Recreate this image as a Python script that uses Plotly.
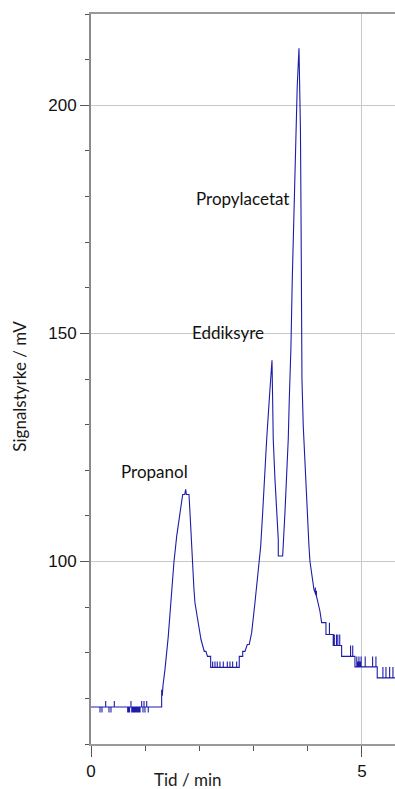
import plotly.graph_objects as go

# Chromatogram: retention time (min) and detector signal (mV).
# Repeated time values form the single-sample noise spikes of the recorder.
tid_min = [
    0.000,
    0.166, 0.166, 0.166,
    0.203, 0.203, 0.203,
    0.271, 0.271, 0.271,
    0.332, 0.332, 0.332,
    0.369, 0.369, 0.369,
    0.430, 0.430, 0.430,
    0.677, 0.677, 0.677,
    0.695, 0.695, 0.695,
    0.712, 0.712, 0.712,
    0.738, 0.738, 0.738,
    0.752, 0.752, 0.752,
    0.770, 0.770, 0.770,
    0.790, 0.790, 0.790,
    0.808, 0.808, 0.808,
    0.826, 0.826, 0.826,
    0.845, 0.845, 0.845,
    0.866, 0.866, 0.866,
    0.886, 0.886, 0.886,
    0.905, 0.905, 0.905,
    0.935, 0.935, 0.935,
    0.959, 0.959, 0.959,
    0.978, 0.978, 0.978,
    0.996, 0.996, 0.996,
    1.028, 1.028, 1.028,
    1.057, 1.057, 1.057,
    1.304, 1.304, 1.315, 1.330,
    1.365, 1.426, 1.489, 1.531, 1.581, 1.642, 1.692,
    1.730, 1.747, 1.760, 1.808,
    1.827, 1.869, 1.900, 1.919, 1.980, 2.030, 2.090, 2.120, 2.150, 2.208, 2.208,
    2.245, 2.245, 2.245,
    2.288, 2.288, 2.288,
    2.330, 2.330, 2.330,
    2.380, 2.380, 2.380,
    2.441, 2.441, 2.441,
    2.515, 2.515, 2.515,
    2.565, 2.565, 2.565,
    2.614, 2.614, 2.614,
    2.688, 2.688, 2.688,
    2.736, 2.736, 2.800, 2.800, 2.841, 2.884, 2.920,
    2.965, 3.026, 3.087, 3.131, 3.168, 3.197, 3.242, 3.290, 3.321, 3.334, 3.340,
    3.352, 3.363, 3.395, 3.426, 3.456, 3.456, 3.537,
    3.579, 3.611, 3.640, 3.659, 3.690, 3.714, 3.733, 3.751, 3.777, 3.795, 3.806, 3.838,
    3.856, 3.865, 3.875, 3.880, 3.893, 3.917, 3.948, 3.980, 4.022, 4.041,
    4.090, 4.114, 4.140, 4.140, 4.140, 4.160, 4.160, 4.160, 4.175, 4.225, 4.256,
    4.336, 4.336,
    4.400, 4.400, 4.400,
    4.470, 4.470,
    4.490, 4.490, 4.490,
    4.530, 4.530, 4.530,
    4.555, 4.555, 4.555,
    4.590, 4.590, 4.590,
    4.625, 4.625,
    4.790, 4.790, 4.790,
    4.830, 4.830, 4.830,
    4.871, 4.871,
    4.905, 4.905, 4.905,
    4.925, 4.925, 4.925,
    4.945, 4.945, 4.945,
    4.965, 4.965, 4.965,
    4.985, 4.985, 4.985,
    5.060, 5.060, 5.060,
    5.197, 5.197, 5.197,
    5.258, 5.258, 5.258,
    5.282, 5.282,
    5.387, 5.387, 5.387,
    5.443, 5.443, 5.443,
    5.511, 5.511, 5.511,
    5.572, 5.572, 5.572,
    5.650,
]

signal_mv = [
    68.1,
    68.1, 66.9, 68.1,
    68.1, 66.9, 68.1,
    68.1, 69.4, 68.1,
    68.1, 66.9, 68.1,
    68.1, 66.9, 68.1,
    68.1, 69.4, 68.1,
    68.1, 66.9, 68.1,
    68.1, 66.9, 68.1,
    68.1, 66.9, 68.1,
    68.1, 69.4, 68.1,
    68.1, 66.9, 68.1,
    68.1, 66.9, 68.1,
    68.1, 66.9, 68.1,
    68.1, 66.9, 68.1,
    68.1, 66.9, 68.1,
    68.1, 66.9, 68.1,
    68.1, 66.9, 68.1,
    68.1, 66.9, 68.1,
    68.1, 66.9, 68.1,
    68.1, 69.4, 68.1,
    68.1, 66.9, 68.1,
    68.1, 69.4, 68.1,
    68.1, 66.9, 68.1,
    68.1, 69.4, 68.1,
    68.1, 66.9, 68.1,
    68.1, 71.9, 70.6, 73.0,
    76.3, 83.6, 94.6, 99.9, 105.5, 110.7, 114.7,
    114.7, 115.8, 114.7, 114.7,
    110.7, 99.9, 93.9, 90.9, 86.6, 82.9, 80.3, 80.3, 79.2, 79.2, 76.8,
    76.8, 78.1, 76.8,
    76.8, 78.1, 76.8,
    76.8, 78.1, 76.8,
    76.8, 78.1, 76.8,
    76.8, 78.1, 76.8,
    76.8, 78.1, 76.8,
    76.8, 78.1, 76.8,
    76.8, 78.1, 76.8,
    76.8, 78.1, 76.8,
    76.8, 79.2, 79.2, 80.3, 80.3, 81.8, 81.8,
    84.4, 91.0, 98.2, 103.3, 110.7, 118.0, 126.8, 135.5, 142.1, 144.1, 144.1,
    135.5, 126.8, 118.0, 110.7, 104.8, 101.2, 101.2,
    110.7, 118.0, 126.8, 135.5, 147.2, 161.8, 171.1, 177.9, 187.5, 194.7, 204.2, 212.5,
    204.2, 194.7, 177.9, 161.8, 139.9, 129.7, 120.9, 112.1, 103.4, 100.0,
    96.1, 93.9, 93.0, 94.3, 93.0, 92.4, 93.6, 92.4, 91.7, 89.1, 86.6,
    86.6, 84.0,
    84.0, 86.6, 84.0,
    84.0, 81.6,
    81.6, 84.0, 81.6,
    81.6, 84.0, 81.6,
    81.6, 84.0, 81.6,
    81.6, 84.0, 81.6,
    81.6, 79.2,
    79.2, 81.6, 79.2,
    79.2, 81.6, 79.2,
    79.2, 76.9,
    76.9, 79.2, 76.9,
    76.9, 78.1, 76.9,
    76.9, 79.2, 76.9,
    76.9, 78.1, 76.9,
    76.9, 79.2, 76.9,
    76.9, 79.2, 76.9,
    76.9, 79.2, 76.9,
    76.9, 79.2, 76.9,
    76.9, 74.5,
    74.5, 76.9, 74.5,
    74.5, 76.9, 74.5,
    74.5, 76.9, 74.5,
    74.5, 76.9, 74.5,
    74.5,
]

# Peak labels: name, time (min), signal (mV) of the label centre
topp_navn = ["Propanol", "Eddiksyre", "Propylacetat"]
topp_tid = [1.18, 2.53, 2.80]
topp_mv = [119.7, 150.2, 179.6]

fig = go.Figure()
fig.add_trace(go.Scatter(
    x=tid_min, y=signal_mv, mode="lines",
    line=dict(color="#1c1ca8", width=1.1),
    hoverinfo="skip", showlegend=False,
))

for navn, t, mv in zip(topp_navn, topp_tid, topp_mv):
    fig.add_annotation(x=t, y=mv, text=navn, showarrow=False,
                       xanchor="center", yanchor="middle",
                       font=dict(family="Lato", size=17, color="#111111"))

# Axis titles
fig.add_annotation(xref="paper", yref="paper", x=0.319, y=-0.048,
                   text="Tid / min", showarrow=False,
                   xanchor="center", yanchor="middle",
                   font=dict(family="Lato", size=17, color="#1a1a1a"))
fig.add_annotation(xref="paper", yref="paper", x=-0.234, y=0.4907,
                   text="Signalstyrke / mV", showarrow=False, textangle=-90,
                   xanchor="center", yanchor="middle",
                   font=dict(family="Lato", size=17, color="#1a1a1a"))

tick_font = dict(family="Liberation Sans", size=17, color="#111111")

fig.update_xaxes(
    range=[0, 5.61], tick0=0, dtick=5,
    ticks="outside", ticklen=11, tickcolor="#555555", tickwidth=1,
    tickfont=tick_font,
    showgrid=True, gridcolor="#c8c8c8", gridwidth=1,
    zeroline=False,
    showline=True, linecolor="#9a9a9a", linewidth=1.5, mirror=True,
    minor=dict(dtick=1, tick0=0, ticks="outside", ticklen=5,
               tickcolor="#555555", showgrid=False),
)
fig.update_yaxes(
    range=[60, 220], tick0=0, dtick=50,
    ticks="outside", ticklen=9, tickcolor="#555555", tickwidth=1,
    tickfont=tick_font,
    showgrid=True, gridcolor="#c8c8c8", gridwidth=1,
    zeroline=False,
    showline=True, linecolor="#8a8a8a", linewidth=2,
    minor=dict(dtick=10, tick0=0, ticks="outside", ticklen=4,
               tickcolor="#555555", showgrid=False),
)

fig.update_layout(
    width=395, height=789,
    margin=dict(l=91, r=0, t=14, b=45),
    paper_bgcolor="white", plot_bgcolor="white",
)

fig.write_html("out.html")
